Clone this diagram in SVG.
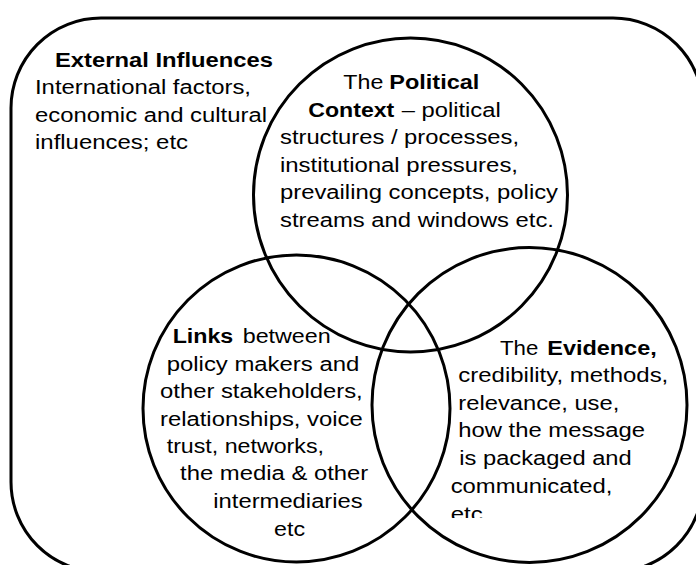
<svg xmlns="http://www.w3.org/2000/svg" width="696" height="565" viewBox="0 0 696 565">
<style>
.shape{fill:none;stroke:#000;stroke-width:3}
text{font-family:"Liberation Sans",Arial,sans-serif;font-size:20px;fill:#000}
.b{font-weight:bold}
</style>
<defs>
<clipPath id="clipEtc"><rect x="440" y="490" width="100" height="28"/></clipPath>
</defs>
<rect width="696" height="565" fill="#fff"/>
<g id="external">
<rect class="shape" x="11" y="18" width="692" height="554" rx="90" ry="90"/>
<text class="b" x="55" y="67" textLength="218" lengthAdjust="spacingAndGlyphs">External Influences</text>
<text x="35" y="94" textLength="216" lengthAdjust="spacingAndGlyphs">International factors,</text>
<text x="35" y="121.5" textLength="232" lengthAdjust="spacingAndGlyphs">economic and cultural</text>
<text x="35" y="149" textLength="153" lengthAdjust="spacingAndGlyphs">influences; etc</text>
</g>
<g id="political">
<circle class="shape" cx="410.5" cy="195" r="157"/>
<text x="343.3" y="89.3" textLength="40" lengthAdjust="spacingAndGlyphs">The</text>
<text class="b" x="389.3" y="89.3" textLength="90" lengthAdjust="spacingAndGlyphs">Political</text>
<text class="b" x="308.3" y="116.7" textLength="86" lengthAdjust="spacingAndGlyphs">Context</text>
<text x="401.7" y="116.7" textLength="99" lengthAdjust="spacingAndGlyphs">– political</text>
<text x="280" y="144" textLength="239" lengthAdjust="spacingAndGlyphs">structures / processes,</text>
<text x="280" y="171.7" textLength="238" lengthAdjust="spacingAndGlyphs">institutional pressures,</text>
<text x="280" y="199.3" textLength="278" lengthAdjust="spacingAndGlyphs">prevailing concepts, policy</text>
<text x="280" y="227.3" textLength="274" lengthAdjust="spacingAndGlyphs">streams and windows etc.</text>
</g>
<g id="links">
<circle class="shape" cx="296.5" cy="408.5" r="153.5"/>
<text class="b" x="172.7" y="342.7" textLength="60.6" lengthAdjust="spacingAndGlyphs">Links</text>
<text x="242.7" y="342.7" textLength="88" lengthAdjust="spacingAndGlyphs">between</text>
<text x="166.7" y="370.7" textLength="192.6" lengthAdjust="spacingAndGlyphs">policy makers and</text>
<text x="160" y="398.3" textLength="202.7" lengthAdjust="spacingAndGlyphs">other stakeholders,</text>
<text x="160" y="426" textLength="202.7" lengthAdjust="spacingAndGlyphs">relationships, voice</text>
<text x="166.7" y="453.3" textLength="157.3" lengthAdjust="spacingAndGlyphs">trust, networks,</text>
<text x="180" y="480" textLength="188.3" lengthAdjust="spacingAndGlyphs">the media &amp; other</text>
<text x="213.3" y="508.3" textLength="149.4" lengthAdjust="spacingAndGlyphs">intermediaries</text>
<text x="274" y="536" textLength="31" lengthAdjust="spacingAndGlyphs">etc</text>
</g>
<g id="evidence">
<circle class="shape" cx="529.5" cy="405" r="157.5"/>
<text x="500" y="355" textLength="38.3" lengthAdjust="spacingAndGlyphs">The</text>
<text class="b" x="547.3" y="355" textLength="109.4" lengthAdjust="spacingAndGlyphs">Evidence,</text>
<text x="458.3" y="381.7" textLength="210" lengthAdjust="spacingAndGlyphs">credibility, methods,</text>
<text x="458.3" y="410" textLength="161" lengthAdjust="spacingAndGlyphs">relevance, use,</text>
<text x="458.3" y="437.3" textLength="186.7" lengthAdjust="spacingAndGlyphs">how the message</text>
<text x="459.3" y="465" textLength="172.4" lengthAdjust="spacingAndGlyphs">is packaged and</text>
<text x="450.7" y="492.7" textLength="161.6" lengthAdjust="spacingAndGlyphs">communicated,</text>
<text x="450.7" y="520.5" textLength="32" lengthAdjust="spacingAndGlyphs" clip-path="url(#clipEtc)">etc</text>
</g>
</svg>
